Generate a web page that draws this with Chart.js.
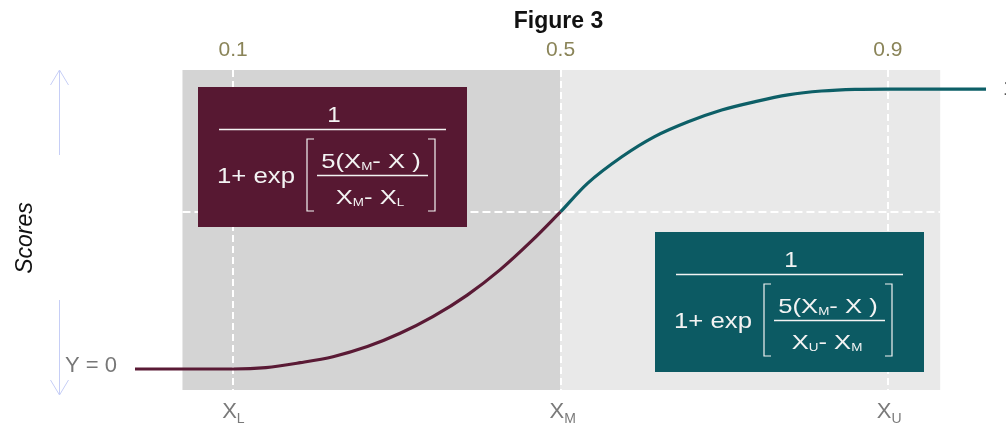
<!DOCTYPE html>
<html><head><meta charset="utf-8">
<script src="https://cdn.jsdelivr.net/npm/chart.js@4.4.1/dist/chart.umd.min.js"></script>
<style>html,body{margin:0;padding:0;background:#fff;overflow:hidden}canvas{display:block}</style>
</head><body>
<canvas id="c" width="1006" height="426"></canvas>
<script>
// ---- data ----
const lowerX = [-0.02, 0.06, 0.10, 0.14, 0.182, 0.222, 0.264, 0.304, 0.344, 0.386, 0.426, 0.466, 0.50];
const lowerY = [0, 0, 0, 0.005, 0.0225, 0.044, 0.080, 0.1275, 0.187, 0.264, 0.354, 0.461, 0.561];
const upperX = [0.50, 0.533, 0.575, 0.615, 0.656, 0.697, 0.738, 0.778, 0.819, 0.86, 0.90, 0.963, 1.02];
const upperY = [0.561, 0.663, 0.758, 0.830, 0.883, 0.925, 0.955, 0.979, 0.993, 0.999, 1, 1, 1];
const topTicks = [0.1, 0.5, 0.9];
const topTickLabels = ['0.1', '0.5', '0.9'];
const bottomLabels = [['X', 'L'], ['X', 'M'], ['X', 'U']];
const midScore = 0.561;
const yTickLabel = 'Y = 0';
const rightLabel = '1';
const titleText = 'Figure 3';
const yTitle = 'Scores';
const bandEdges = [0.038, 0.5, 0.964];
const numerParts = [['5(X', 0], ['M', 1], ['- X )', 0]];
const denomLower = [['X', 0], ['M', 1], ['- X', 0], ['L', 1]];
const denomUpper = [['X', 0], ['U', 1], ['- X', 0], ['M', 1]];

const FAM = '"Liberation Sans", Arial, sans-serif';

function runs(ctx, parts, cx, base, big, small, sx) {
  const fb = big + 'px ' + FAM, fs = small + 'px ' + FAM;
  let w = 0;
  parts.forEach(p => { ctx.font = p[1] ? fs : fb; w += ctx.measureText(p[0]).width; });
  let x = -w / 2;
  ctx.save();
  ctx.translate(cx, base); ctx.scale(sx, 1);
  ctx.textAlign = 'left'; ctx.textBaseline = 'alphabetic';
  parts.forEach(p => {
    ctx.font = p[1] ? fs : fb;
    ctx.fillText(p[0], x, p[1] ? 2 : 0);
    x += ctx.measureText(p[0]).width;
  });
  ctx.restore();
}
function hline(ctx, x1, x2, y) { ctx.beginPath(); ctx.moveTo(x1, y); ctx.lineTo(x2, y); ctx.stroke(); }

function drawFormula(ctx, left, top, fill, denom) {
  ctx.save();
  ctx.fillStyle = fill;
  ctx.fillRect(left, top, 269, 140);
  ctx.fillStyle = '#f3f3f3'; ctx.strokeStyle = '#f3f3f3'; ctx.lineWidth = 1.5;
  runs(ctx, [['1', 0]], left + 136, top + 35, 22, 11, 1.1);
  hline(ctx, left + 21, left + 248, top + 42.5);
  runs(ctx, [['1+ exp', 0]], left + 58, top + 96, 22, 11, 1.17);
  ctx.lineWidth = 1.2;
  ctx.beginPath();
  ctx.moveTo(left + 116, top + 52); ctx.lineTo(left + 109, top + 52); ctx.lineTo(left + 109, top + 124); ctx.lineTo(left + 116, top + 124);
  ctx.moveTo(left + 230, top + 52); ctx.lineTo(left + 237, top + 52); ctx.lineTo(left + 237, top + 124); ctx.lineTo(left + 230, top + 124);
  ctx.stroke();
  runs(ctx, numerParts, left + 173, top + 81, 21, 11, 1.22);
  ctx.lineWidth = 1.5;
  hline(ctx, left + 119, left + 230, top + 88.5);
  runs(ctx, denom, left + 172, top + 117, 21, 11, 1.22);
  ctx.restore();
}

const deco = {
  id: 'deco',
  beforeDraw(chart) {
    const { ctx, chartArea: a, scales: { x } } = chart;
    ctx.save();
    ctx.fillStyle = '#d4d4d4';
    ctx.fillRect(x.getPixelForValue(bandEdges[0]), a.top, x.getPixelForValue(bandEdges[1]) - x.getPixelForValue(bandEdges[0]), a.bottom - a.top);
    ctx.fillStyle = '#e9e9e9';
    ctx.fillRect(x.getPixelForValue(bandEdges[1]), a.top, x.getPixelForValue(bandEdges[2]) - x.getPixelForValue(bandEdges[1]), a.bottom - a.top);
    ctx.restore();
  },
  beforeDatasetsDraw(chart) {
    const { ctx, scales: { x, y } } = chart;
    ctx.save();
    ctx.strokeStyle = '#ffffff'; ctx.lineWidth = 2; ctx.setLineDash([8, 4]);
    hline(ctx, x.getPixelForValue(bandEdges[0]), x.getPixelForValue(bandEdges[2]), Math.round(y.getPixelForValue(midScore)));
    ctx.restore();
  },
  afterDatasetsDraw(chart) {
    const { ctx, chartArea: a, scales: { x, y } } = chart;
    // formula boxes
    drawFormula(ctx, Math.round(x.getPixelForValue(0.057)), Math.round(y.getPixelForValue(1.007)), '#571832', denomLower);
    drawFormula(ctx, Math.round(x.getPixelForValue(0.6155)), Math.round(y.getPixelForValue(0.489)), '#0c5a63', denomUpper);
    ctx.save();
    // bottom labels
    ctx.fillStyle = '#7a7a7a'; ctx.textAlign = 'left'; ctx.textBaseline = 'alphabetic';
    topTicks.forEach((v, i) => {
      const px = x.getPixelForValue(v) - 11;
      ctx.font = '22px ' + FAM;
      ctx.fillText(bottomLabels[i][0], px, a.bottom + 28);
      const w = ctx.measureText(bottomLabels[i][0]).width;
      ctx.font = '14px ' + FAM;
      ctx.fillText(bottomLabels[i][1], px + w, a.bottom + 33);
    });
    // vertical arrow
    ctx.strokeStyle = '#c6cef6'; ctx.lineWidth = 1;
    const ax = 59.5, t = a.top, b = a.bottom + 5;
    ctx.beginPath();
    ctx.moveTo(ax, t); ctx.lineTo(ax, t + 85);
    ctx.moveTo(ax - 9, t + 15); ctx.lineTo(ax, t); ctx.lineTo(ax + 9, t + 15);
    ctx.moveTo(ax, b - 95); ctx.lineTo(ax, b);
    ctx.moveTo(ax - 9, b - 15); ctx.lineTo(ax, b); ctx.lineTo(ax + 9, b - 15);
    ctx.stroke();
    // y title
    ctx.fillStyle = '#111';
    ctx.save();
    ctx.translate(32, (a.top + a.bottom) / 2 + 8);
    ctx.rotate(-Math.PI / 2);
    ctx.font = 'italic 23px ' + FAM; ctx.textAlign = 'center';
    ctx.fillText(yTitle, 0, 0);
    ctx.restore();
    // title
    ctx.font = 'bold 23px ' + FAM; ctx.textAlign = 'center'; ctx.fillStyle = '#111';
    ctx.fillText(titleText, x.getPixelForValue(0.5) - 2, 28);
    // right label (clipped by the page edge)
    ctx.font = '22px ' + FAM; ctx.textAlign = 'left'; ctx.textBaseline = 'middle'; ctx.fillStyle = '#555';
    ctx.fillText(rightLabel, a.right + 17, y.getPixelForValue(1));
    ctx.restore();
  }
};

new Chart(document.getElementById('c'), {
  type: 'line',
  data: {
    datasets: [
      { data: lowerX.map((v, i) => ({ x: v, y: lowerY[i] })), borderColor: '#5a1a35', borderWidth: 3.2,
        pointRadius: 0, cubicInterpolationMode: 'monotone', fill: false, clip: false },
      { data: upperX.map((v, i) => ({ x: v, y: upperY[i] })), borderColor: '#0d5f67', borderWidth: 3.2,
        pointRadius: 0, cubicInterpolationMode: 'monotone', fill: false, clip: false }
    ]
  },
  options: {
    responsive: false, animation: false, devicePixelRatio: 1, events: [],
    layout: { padding: { left: 0, right: 20, top: 0, bottom: 36 } },
    plugins: { legend: { display: false }, tooltip: { enabled: false }, title: { display: false } },
    scales: {
      x: {
        type: 'linear', position: 'top', min: -0.02, max: 1.02,
        afterBuildTicks: s => { s.ticks = topTicks.map(v => ({ value: v })); },
        afterFit: s => { s.height = 70; },
        ticks: { callback: (v, i) => topTickLabels[i], font: { size: 21, family: FAM }, color: '#8a8458',
                 padding: 7, maxRotation: 0, autoSkip: false },
        grid: { color: '#ffffff', lineWidth: 2, drawTicks: false },
        border: { display: false, dash: [7, 4] }
      },
      y: {
        type: 'linear', position: 'left', min: -0.075, max: 1.068,
        afterBuildTicks: s => { s.ticks = [{ value: 0 }]; },
        afterFit: s => { s.width = 135; },
        ticks: { callback: () => yTickLabel, font: { size: 22, family: FAM }, color: '#777777',
                 padding: 18, labelOffset: -3 },
        grid: { display: false, drawTicks: false },
        border: { display: false }
      }
    }
  },
  plugins: [deco]
});
</script>
</body></html>
